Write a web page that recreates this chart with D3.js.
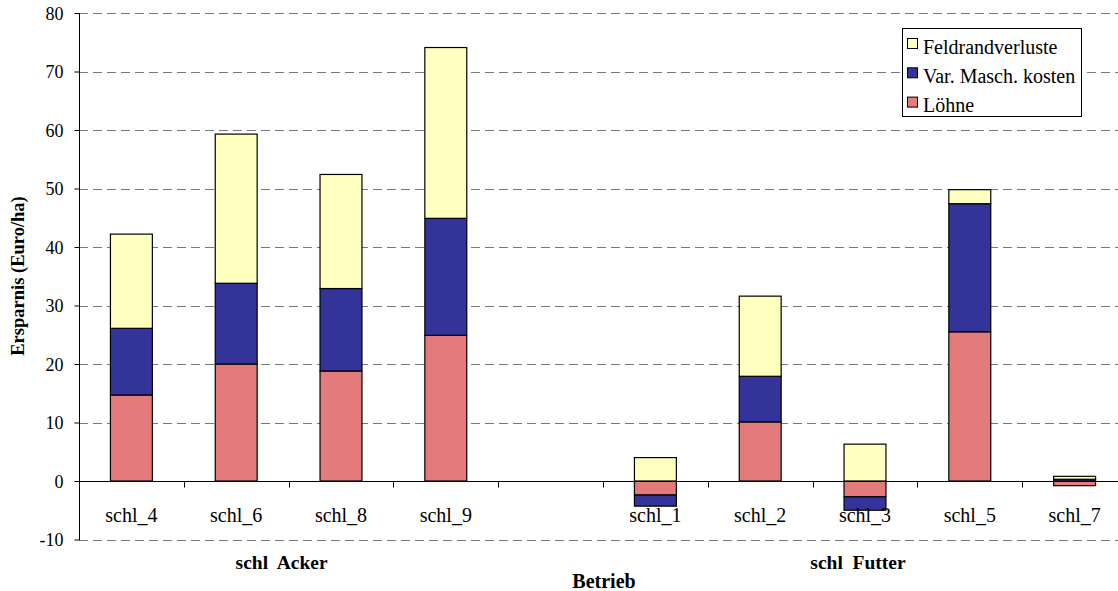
<!DOCTYPE html>
<html><head><meta charset="utf-8">
<script src="https://cdn.jsdelivr.net/npm/d3@7"></script>
<style>
html,body{margin:0;padding:0;background:#fff;}
svg text{font-family:"Liberation Serif","Times New Roman",Tinos,"DejaVu Serif",serif !important;}
</style></head>
<body><svg id="c" width="1118" height="591"></svg>
<script>
const categories = ["schl_4","schl_6","schl_8","schl_9","","schl_1","schl_2","schl_3","schl_5","schl_7"];
const loehne = [14.7, 20.0, 18.8, 24.9, 0, -2.4, 10.1, -2.7, 25.5, -0.8];
const masch  = [11.4, 13.8, 14.1, 20.0, 0, -1.9, 7.8, -2.3, 21.9, 0.3];
const feld   = [16.1, 25.5, 19.5, 29.2, 0, 4.0, 13.7, 6.3, 2.4, 0.5];
const seriesNames = ["Löhne", "Var. Masch. kosten", "Feldrandverluste"];
const seriesColors = ["#E47B7B", "#333399", "#FFFFC0"];
const yTicks = [-10, 0, 10, 20, 30, 40, 50, 60, 70, 80];
const groups = [{name:"schl  Acker", from:0, to:3}, {name:"schl  Futter", from:5, to:9}];

const FONT = "Liberation Serif, Times New Roman, Tinos, DejaVu Serif, serif";
const svg = d3.select("#c").attr("font-family", FONT);
const keys = categories.map((c,i)=> "k"+i);
const x = d3.scaleBand().domain(keys).range([79, 1127]).padding(0);
const y = d3.scaleLinear().domain([-10, 80]).range([539.5, 13]);

// gridlines
svg.append("g").selectAll("line").data(yTicks.filter(t=>t!==0)).join("line")
  .attr("x1", 79).attr("x2", 1127)
  .attr("y1", d=>Math.round(y(d))+0.5).attr("y2", d=>Math.round(y(d))+0.5)
  .attr("stroke", "#7a7a7a").attr("stroke-width", 1).attr("stroke-dasharray", "9,5");

// stacked data
const rows = keys.map((k,i)=>({key:k, "Löhne":loehne[i], "Var. Masch. kosten":masch[i], "Feldrandverluste":feld[i]}));
const stack = d3.stack().keys(seriesNames).offset(d3.stackOffsetDiverging);
const stacked = stack(rows);
const bw = x.bandwidth()*0.4;

svg.append("g").selectAll("g").data(stacked).join("g")
  .attr("fill", (d,i)=>seriesColors[i])
  .selectAll("rect").data(d=>d.filter(p=>p[1]-p[0]!==0)).join("rect")
  .attr("x", d=>x(d.data.key)+(x.bandwidth()-bw)/2)
  .attr("width", bw)
  .attr("y", d=>y(Math.max(d[0],d[1])))
  .attr("height", d=>Math.abs(y(d[0])-y(d[1])))
  .attr("stroke", "#000").attr("stroke-width", 1.2);

// zero line with category ticks
const y0 = Math.round(y(0))+0.5;
svg.append("line").attr("x1",79).attr("x2",1127).attr("y1",y0).attr("y2",y0).attr("stroke","#000");
svg.append("g").selectAll("line").data(keys.slice(1).concat(["end"])).join("line")
  .attr("x1", d=> d==="end" ? 1127 : Math.round(x(d))+0.5)
  .attr("x2", d=> d==="end" ? 1127 : Math.round(x(d))+0.5)
  .attr("y1", y0).attr("y2", y0+6).attr("stroke","#000");

// y axis
const yAxis = d3.axisLeft(y).tickValues(yTicks).tickSize(5).tickPadding(11).tickFormat(d=>String(d));
const ga = svg.append("g").attr("transform","translate(79.5,0)").call(yAxis);
ga.attr("font-family", FONT);
ga.select(".domain").attr("stroke","#000").attr("d","M0,13V540");
ga.selectAll(".tick line").attr("stroke","#000");
ga.selectAll(".tick text").attr("font-size","18px").attr("font-family",FONT).attr("fill","#000").attr("dy","0.34em");

// category labels
svg.append("g").selectAll("text").data(keys).join("text")
  .attr("x", d=>x(d)+x.bandwidth()/2).attr("y", 522)
  .attr("text-anchor","middle").attr("font-size","20px").attr("font-family",FONT)
  .text((d,i)=>categories[i]);

// group labels
svg.append("g").selectAll("text").data(groups).join("text")
  .attr("x", g=>(x(keys[g.from]) + x(keys[g.to]) + x.bandwidth())/2 - 7)
  .attr("y", 569).attr("text-anchor","middle").attr("font-size","19.5px").attr("font-weight","bold")
  .attr("font-family",FONT).style("white-space","pre").text(g=>g.name);

// axis titles
svg.append("text").attr("x", 604).attr("y", 588).attr("text-anchor","middle").attr("font-family",FONT)
  .attr("font-size","20px").attr("font-weight","bold").text("Betrieb");
svg.append("text").attr("transform","translate(24,276) rotate(-90)").attr("text-anchor","middle").attr("font-family",FONT)
  .attr("font-size","18.5px").attr("font-weight","bold").text("Ersparnis (Euro/ha)");

// legend
const lg = svg.append("g");
lg.append("rect").attr("x",902.5).attr("y",28.5).attr("width",179).attr("height",88)
  .attr("fill","#fff").attr("stroke","#000");
const legendOrder = [2,1,0];
legendOrder.forEach((si,j)=>{
  lg.append("rect").attr("x",907.5).attr("y",38.5+j*29.3).attr("width",10).attr("height",10)
    .attr("fill",seriesColors[si]).attr("stroke","#000");
  lg.append("text").attr("x",923).attr("y",53.5+j*29.3).attr("font-size","20px").attr("font-family",FONT).text(seriesNames[si]);
});
</script></body></html>
